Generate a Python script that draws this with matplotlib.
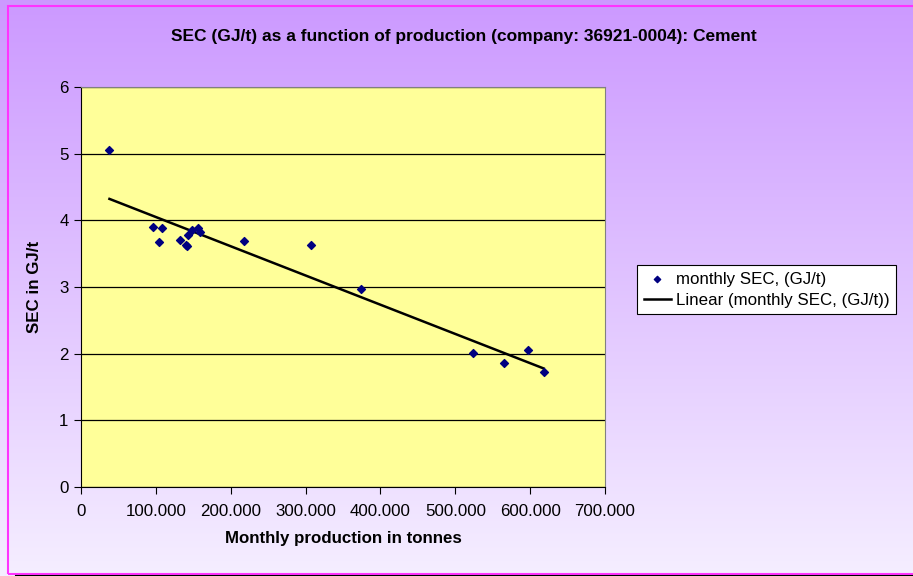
import numpy as np
import matplotlib
matplotlib.use("Agg")
import matplotlib.pyplot as plt
from matplotlib.patches import Rectangle
from matplotlib.ticker import FuncFormatter

plt.rcParams['font.family'] = ['Liberation Sans', 'DejaVu Sans']

# Data (tonnes, GJ/t)
production = [38000, 95600, 108600, 104600, 132400, 141200, 140400, 143100,
              147900, 156000, 159200, 218200, 307500, 374000, 523000, 564600,
              597700, 618000]
sec = [5.05, 3.90, 3.88, 3.68, 3.71, 3.62, 3.63, 3.78,
       3.86, 3.88, 3.82, 3.69, 3.63, 2.97, 2.01, 1.86,
       2.06, 1.72]

title = "SEC (GJ/t) as a function of production (company: 36921-0004): Cement"
xlabel = "Monthly production in tonnes"
ylabel = "SEC in GJ/t"
series_label = "monthly SEC, (GJ/t)"
trend_label = "Linear (monthly SEC, (GJ/t))"

FS = 12.2

fig = plt.figure(figsize=(9.13, 5.76), dpi=100)

# background gradient
bg = fig.add_axes([0, 0, 1, 1], zorder=-10)
top = np.array([204, 153, 255]) / 255
bot = np.array([245, 238, 255]) / 255
t = np.linspace(0, 1, 256)[:, None]
grad = top[None, :] * (1 - t) + bot[None, :] * t
bg.imshow(grad[:, None, :].repeat(2, axis=1), aspect='auto', extent=[0, 1, 0, 1],
          transform=bg.transAxes, interpolation='bilinear')
bg.set_xlim(0, 1); bg.set_ylim(0, 1)
bg.axis('off')
# border and shadow
W, H = 913, 576
bg.add_patch(Rectangle((8 / W, 1 - 574 / H), (W + 5) / W, (574 - 6) / H,
                       fill=False, edgecolor='#FF33FF', lw=1.5, transform=bg.transAxes,
                       clip_on=False))
bg.plot([16 / W, 1], [1 - 575.5 / H, 1 - 575.5 / H], color='black', lw=1.5,
        transform=bg.transAxes, clip_on=False)

ax = fig.add_axes([81 / W, 1 - 487 / H, (605 - 81) / W, (487 - 87) / H])
ax.set_facecolor('#FFFF99')
ax.set_xlim(0, 700000)
ax.set_ylim(0, 6)
ax.set_xticks(np.arange(0, 700001, 100000))
ax.set_yticks(np.arange(0, 7, 1))
ax.xaxis.set_major_formatter(FuncFormatter(lambda v, p: "0" if v == 0 else f"{int(v/1000)}.000"))
ax.yaxis.grid(True, color='black', lw=0.9)
ax.set_axisbelow(True)
for s in ['top', 'right']:
    ax.spines[s].set_color('#808080')
ax.spines['left'].set_color('black')
ax.spines['bottom'].set_color('black')
ax.tick_params(axis='both', direction='out', length=5, labelsize=FS, colors='black',
               width=0.8)
ax.tick_params(axis='x', pad=7)
ax.tick_params(axis='y', pad=4)

ax.scatter(production, sec, marker='D', s=16, color='#000080', zorder=3, label=series_label)
coef = np.polyfit(production, sec, 1)
xs = np.array([min(production), max(production)])
ax.plot(xs, np.polyval(coef, xs), color='black', lw=1.8, zorder=2, label=trend_label)

ax.set_xlabel(xlabel, fontsize=FS, fontweight='bold', labelpad=9)
ax.set_ylabel(ylabel, fontsize=FS, fontweight='bold', labelpad=12)
fig.text(464 / W, 1 - 37 / H, title, ha='center', va='center', fontsize=12.5, fontweight='bold')

leg = ax.legend(loc='upper left', bbox_to_anchor=(637 / W, 1 - 265 / H),
                bbox_transform=fig.transFigure, fontsize=FS, frameon=True,
                fancybox=False, edgecolor='black', framealpha=1, borderpad=0.4,
                handlelength=1.6, handletextpad=0.3, labelspacing=0.35,
                borderaxespad=0, markerscale=0.8)
leg.get_frame().set_linewidth(0.8)

fig.savefig("out.png", dpi=100)
